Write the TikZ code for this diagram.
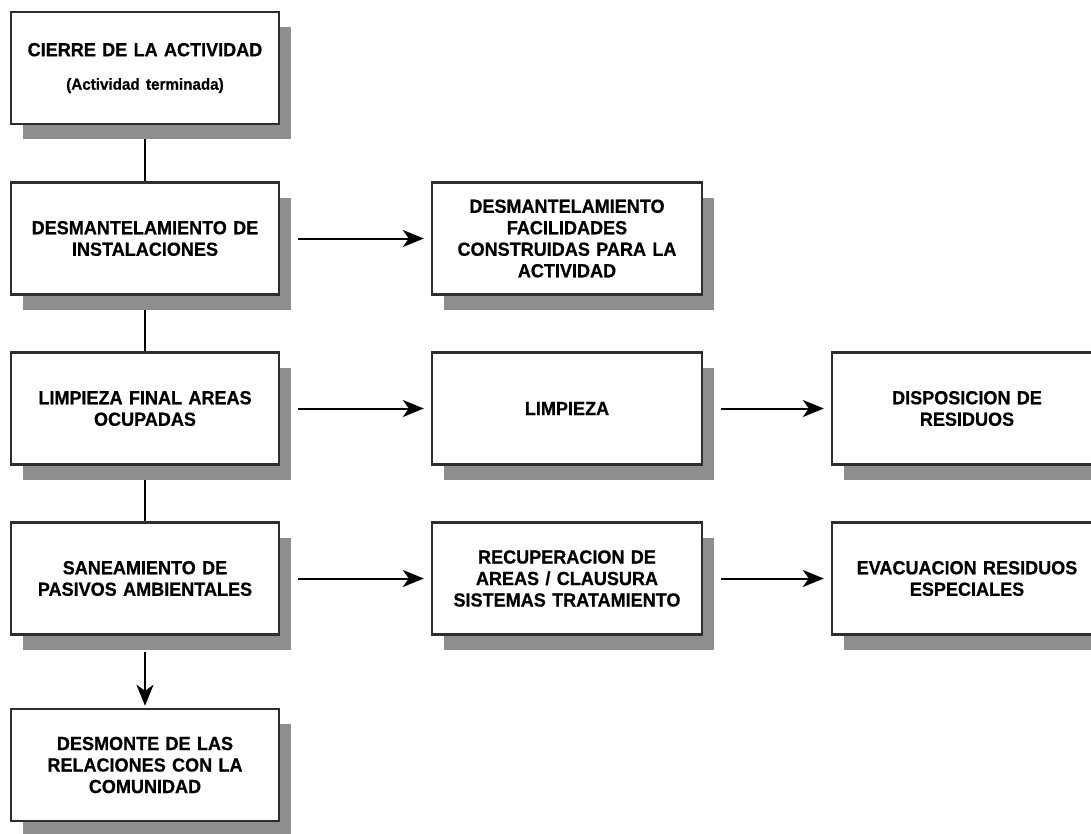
\documentclass[tikz,border=0pt]{standalone}
\usepackage{fontspec}
\setmainfont{Liberation Sans}[FakeStretch=0.95, WordSpace=0.75, BoldFeatures={FakeBold=0.6}]
\usetikzlibrary{arrows.meta,shadows}
\definecolor{shadowgray}{HTML}{8E8E8E}
\definecolor{edgegray}{HTML}{2E2E2E}
\begin{document}
\begin{tikzpicture}[x=1pt,y=-1pt,
  stagebox/.style={draw=edgegray, line width=2.4pt, fill=white,
    minimum width=268pt, minimum height=112pt, text width=250pt,
    align=center, inner sep=0pt,
    font=\fontsize{19}{21.5}\selectfont\bfseries,
    drop shadow={shadow xshift=12pt, shadow yshift=-15pt,
      fill=shadowgray, opacity=1}},
  link/.style={draw=black, line width=2pt},
  tip/.style={-{Stealth[length=21pt,width=17pt,inset=6pt]}},
  flow/.style={link, tip, shorten <=18pt, shorten >=7pt}]
\useasboundingbox (0,0) rectangle (1091,833);

% connectors of the main sequence (drawn first, the shadows cover them)
\draw[link] (145,124) -- (145,182);
\draw[link] (145,295) -- (145,352);
\draw[link] (145,465) -- (145,522);

% main sequence
\node[stagebox] (cierre) at (145,68)
  {CIERRE DE LA ACTIVIDAD\\[12pt]{\fontsize{16}{18}\selectfont(Actividad terminada)}};
\node[stagebox] (desm) at (145,238.5) {DESMANTELAMIENTO DE\\INSTALACIONES};
\node[stagebox] (limp) at (145,408.5) {LIMPIEZA FINAL AREAS\\OCUPADAS};
\node[stagebox] (sane) at (145,578.5) {SANEAMIENTO DE\\PASIVOS AMBIENTALES};
\node[stagebox] (desmonte) at (145,765) {DESMONTE DE LAS\\RELACIONES CON LA\\COMUNIDAD};

% second column
\node[stagebox, minimum width=270pt] (facil) at (567,238.5)
  {DESMANTELAMIENTO\\FACILIDADES\\CONSTRUIDAS PARA LA\\ACTIVIDAD};
\node[stagebox, minimum width=270pt] (limpieza) at (567,408.5) {LIMPIEZA};
\node[stagebox, minimum width=270pt] (recup) at (567,578.5)
  {RECUPERACION DE\\AREAS / CLAUSURA\\SISTEMAS TRATAMIENTO};

% third column
\node[stagebox, minimum width=270pt] (dispo) at (967,408.5) {DISPOSICION DE\\RESIDUOS};
\node[stagebox, minimum width=270pt] (evac) at (967,578.5) {EVACUACION RESIDUOS\\ESPECIALES};

% arrows
\draw[flow] (desm.east) -- (facil.west);
\draw[flow] (limp.east) -- (limpieza.west);
\draw[flow] (limpieza.east) -- (dispo.west);
\draw[flow] (sane.east) -- (recup.west);
\draw[flow] (recup.east) -- (evac.west);
\draw[link, tip, shorten <=16pt, shorten >=2pt] (sane.south) -- (desmonte.north);
\end{tikzpicture}
\end{document}
